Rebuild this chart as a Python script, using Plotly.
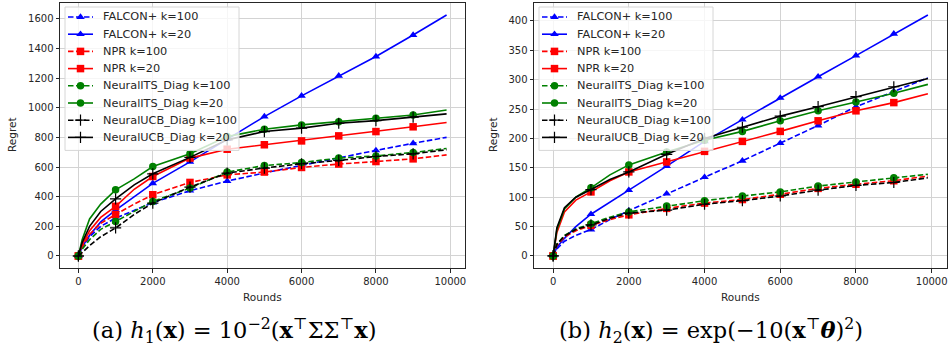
import plotly.graph_objects as go

W, H = 950, 347

ROUNDS = [0, 100, 300, 600, 1000, 1500, 2000, 3000, 4000, 5000, 6000, 7000, 8000, 9000, 9900]
MARK_ROUNDS = [0, 1000, 2000, 3000, 4000, 5000, 6000, 7000, 8000, 9000]

SERIES_NAMES = ["FALCON+ k=100", "FALCON+ k=20", "NPR k=100", "NPR k=20",
                "NeuralITS_Diag k=100", "NeuralITS_Diag k=20",
                "NeuralUCB_Diag k=100", "NeuralUCB_Diag k=20"]

# panel (a) h1
falcon100_a = [0, 55, 130, 200, 255, 310, 360, 440, 505, 560, 612, 660, 712, 760, 800]
falcon20_a = [0, 60, 140, 230, 310, 400, 490, 635, 790, 940, 1080, 1215, 1345, 1490, 1625]
npr100_a = [0, 60, 145, 220, 280, 350, 413, 496, 547, 566, 597, 620, 637, 655, 682]
npr20_a = [0, 75, 170, 260, 335, 450, 536, 660, 720, 750, 776, 810, 839, 871, 900]
its100_a = [0, 45, 110, 180, 233, 300, 368, 458, 566, 610, 630, 660, 675, 698, 725]
its20_a = [0, 110, 250, 350, 446, 520, 603, 690, 805, 855, 884, 906, 929, 951, 985]
ucb100_a = [0, 25, 70, 130, 189, 280, 357, 465, 559, 593, 622, 644, 671, 689, 716]
ucb20_a = [0, 90, 200, 300, 385, 480, 554, 665, 783, 839, 862, 895, 913, 936, 958]

# panel (b) h2
falcon100_b = [0, 12, 25, 35, 45, 62, 77, 106, 134, 162, 192, 222, 254, 280, 303]
falcon20_b = [0, 15, 30, 50, 71, 92, 112, 153, 195, 232, 269, 305, 341, 378, 410]
npr100_b = [0, 18, 32, 43, 52, 62, 70, 81, 90, 96, 105, 115, 122, 128, 136]
npr20_b = [0, 40, 75, 95, 109, 128, 143, 160, 178, 195, 212, 230, 247, 261, 276]
its100_b = [0, 20, 35, 46, 55, 66, 75, 85, 94, 102, 109, 119, 126, 133, 139]
its20_b = [0, 45, 80, 100, 116, 138, 155, 177, 197, 212, 230, 247, 262, 277, 292]
ucb100_b = [0, 20, 34, 45, 53, 64, 73, 78, 88, 94, 102, 112, 120, 125, 133]
ucb20_b = [0, 48, 82, 100, 113, 130, 143, 173, 200, 219, 238, 254, 271, 288, 302]

X_TICKS = [0, 2000, 4000, 6000, 8000, 10000]
X_TICK_TEXT = ["0", "2000", "4000", "6000", "8000", "10000"]
Y_TICKS_A = [0, 200, 400, 600, 800, 1000, 1200, 1400, 1600]
Y_TICKS_B = [0, 50, 100, 150, 200, 250, 300, 350, 400]

PANEL_A = [falcon100_a, falcon20_a, npr100_a, npr20_a, its100_a, its20_a, ucb100_a, ucb20_a]
PANEL_B = [falcon100_b, falcon20_b, npr100_b, npr20_b, its100_b, its20_b, ucb100_b, ucb20_b]

DASHED = "5.5px,2.5px"
STYLES = [
    dict(color="#0000ff", symbol="triangle-up", dash=DASHED),
    dict(color="#0000ff", symbol="triangle-up", dash="solid"),
    dict(color="#ff0000", symbol="square", dash=DASHED),
    dict(color="#ff0000", symbol="square", dash="solid"),
    dict(color="#008000", symbol="circle", dash=DASHED),
    dict(color="#008000", symbol="circle", dash="solid"),
    dict(color="#000000", symbol="cross-thin-open", dash=DASHED),
    dict(color="#000000", symbol="cross-thin-open", dash="solid"),
]

# layout geometry (pixels)
PLOT_TOP, PLOT_BOTTOM = 3, 268
PANEL_X = [(60, 465), (534, 947)]
LEGEND_LEFT = [65, 539]
LEGEND_TOP, ROW_H, ROW0 = 7, 17.2, 17
LEGEND_W = 174


def px_x(p):
    return p / W


def px_y(p):
    return 1 - p / H


def marker_for(st):
    if st["symbol"].startswith("cross"):
        return dict(symbol=st["symbol"], size=8, color=st["color"],
                    line=dict(color=st["color"], width=1.2))
    return dict(symbol=st["symbol"], size=7.5, color=st["color"], line=dict(width=0))


fig = go.Figure()

panels = [("x", "y", PANEL_A), ("x2", "y2", PANEL_B)]
for xa, ya, data in panels:
    for name, vals, st in zip(SERIES_NAMES, data, STYLES):
        fig.add_trace(go.Scatter(
            x=ROUNDS, y=vals, mode="lines", xaxis=xa, yaxis=ya, name=name,
            line=dict(color=st["color"], width=1.6, dash=st["dash"]),
            showlegend=False, hoverinfo="skip"))
        mx = [r for r in ROUNDS if r in MARK_ROUNDS]
        my = [v for r, v in zip(ROUNDS, vals) if r in MARK_ROUNDS]
        fig.add_trace(go.Scatter(
            x=mx, y=my, mode="markers", xaxis=xa, yaxis=ya, name=name,
            marker=marker_for(st), showlegend=False))

# legends drawn on pixel-space overlay axes (one per panel)
annots = []
leg_font = dict(family="DejaVu Sans", size=11.3, color="#262626")
for i, (lx0, (px0, px1)) in enumerate(zip(LEGEND_LEFT, PANEL_X)):
    xa, ya = ("x3", "y3") if i == 0 else ("x4", "y4")
    bottom = ROW0 + ROW_H * (len(SERIES_NAMES) - 1) + 13
    box_x = [lx0, lx0 + LEGEND_W, lx0 + LEGEND_W, lx0, lx0]
    box_y = [LEGEND_TOP, LEGEND_TOP, bottom, bottom, LEGEND_TOP]
    fig.add_trace(go.Scatter(x=box_x, y=box_y, mode="lines", fill="toself",
                             fillcolor="rgba(255,255,255,0.8)",
                             line=dict(color="#d6d6d6", width=1),
                             xaxis=xa, yaxis=ya, showlegend=False, hoverinfo="skip"))
    for j, (name, st) in enumerate(zip(SERIES_NAMES, STYLES)):
        ry = ROW0 + j * ROW_H
        fig.add_trace(go.Scatter(x=[lx0 + 3, lx0 + 28], y=[ry, ry], mode="lines",
                                 line=dict(color=st["color"], width=1.6, dash=st["dash"]),
                                 xaxis=xa, yaxis=ya, showlegend=False, hoverinfo="skip"))
        fig.add_trace(go.Scatter(x=[lx0 + 15.5], y=[ry], mode="markers",
                                 marker=marker_for(st),
                                 xaxis=xa, yaxis=ya, showlegend=False, hoverinfo="skip"))
        annots.append(dict(x=px_x(lx0 + 36), y=px_y(ry), text=name, font=leg_font,
                           xanchor="left", yanchor="middle"))

tickfont = dict(family="DejaVu Sans", size=10, color="#262626")
axis_common = dict(showgrid=True, gridcolor="#d3d3d3", gridwidth=1,
                   showline=True, linecolor="#262626", linewidth=1, mirror=True,
                   ticks="outside", ticklen=3.5, tickcolor="#262626", tickwidth=1,
                   tickfont=tickfont, zeroline=False, automargin=False)
hidden = dict(visible=False, showgrid=False, zeroline=False, fixedrange=True)

fig.update_layout(
    width=W, height=H,
    margin=dict(l=0, r=0, t=0, b=0),
    paper_bgcolor="white", plot_bgcolor="white",
    showlegend=False,
    xaxis=dict(domain=[px_x(PANEL_X[0][0]), px_x(PANEL_X[0][1])], range=[-495, 10395],
               tickvals=X_TICKS, ticktext=X_TICK_TEXT, anchor="y", **axis_common),
    yaxis=dict(domain=[px_y(PLOT_BOTTOM), px_y(PLOT_TOP)], range=[-81, 1706],
               tickvals=Y_TICKS_A, anchor="x", **axis_common),
    xaxis2=dict(domain=[px_x(PANEL_X[1][0]), px_x(PANEL_X[1][1])], range=[-505, 10405],
                tickvals=X_TICKS, ticktext=X_TICK_TEXT, anchor="y2", **axis_common),
    yaxis2=dict(domain=[px_y(PLOT_BOTTOM), px_y(PLOT_TOP)], range=[-20.5, 430.5],
                tickvals=Y_TICKS_B, anchor="x2", **axis_common),
    xaxis3=dict(overlaying="x", range=[PANEL_X[0][0], PANEL_X[0][1]], anchor="y3", **hidden),
    yaxis3=dict(overlaying="y", range=[PLOT_BOTTOM, PLOT_TOP], anchor="x3", **hidden),
    xaxis4=dict(overlaying="x2", range=[PANEL_X[1][0], PANEL_X[1][1]], anchor="y4", **hidden),
    yaxis4=dict(overlaying="y2", range=[PLOT_BOTTOM, PLOT_TOP], anchor="x4", **hidden),
)

lab_font = dict(family="DejaVu Sans", size=10.5, color="#262626")
cap_font = dict(family="DejaVu Serif", size=22.5, color="#000000")
annots += [
    dict(x=px_x(262), y=px_y(297), text="Rounds", font=lab_font),
    dict(x=px_x(740), y=px_y(297), text="Rounds", font=lab_font),
    dict(x=px_x(12), y=px_y(135), text="Regret", font=lab_font, textangle=-90),
    dict(x=px_x(493), y=px_y(135), text="Regret", font=lab_font, textangle=-90),
    dict(x=px_x(234), y=px_y(330),
         text="(a) <i>h</i><sub>1</sub>(<b>x</b>) = 10<sup>−2</sup>(<b>x</b><sup>⊤</sup>ΣΣ<sup>⊤</sup><b>x</b>)",
         font=cap_font),
    dict(x=px_x(711), y=px_y(330),
         text="(b) <i>h</i><sub>2</sub>(<b>x</b>) = exp(−10(<b>x</b><sup>⊤</sup><b><i>θ</i></b>)<sup>2</sup>)",
         font=cap_font),
]
for a in annots:
    a.setdefault("xanchor", "center")
    a.setdefault("yanchor", "middle")
    a.update(xref="paper", yref="paper", showarrow=False)
    fig.add_annotation(**a)

fig.write_html("out.html", config={"displayModeBar": False},
               post_script="document.body.style.margin='0';")
